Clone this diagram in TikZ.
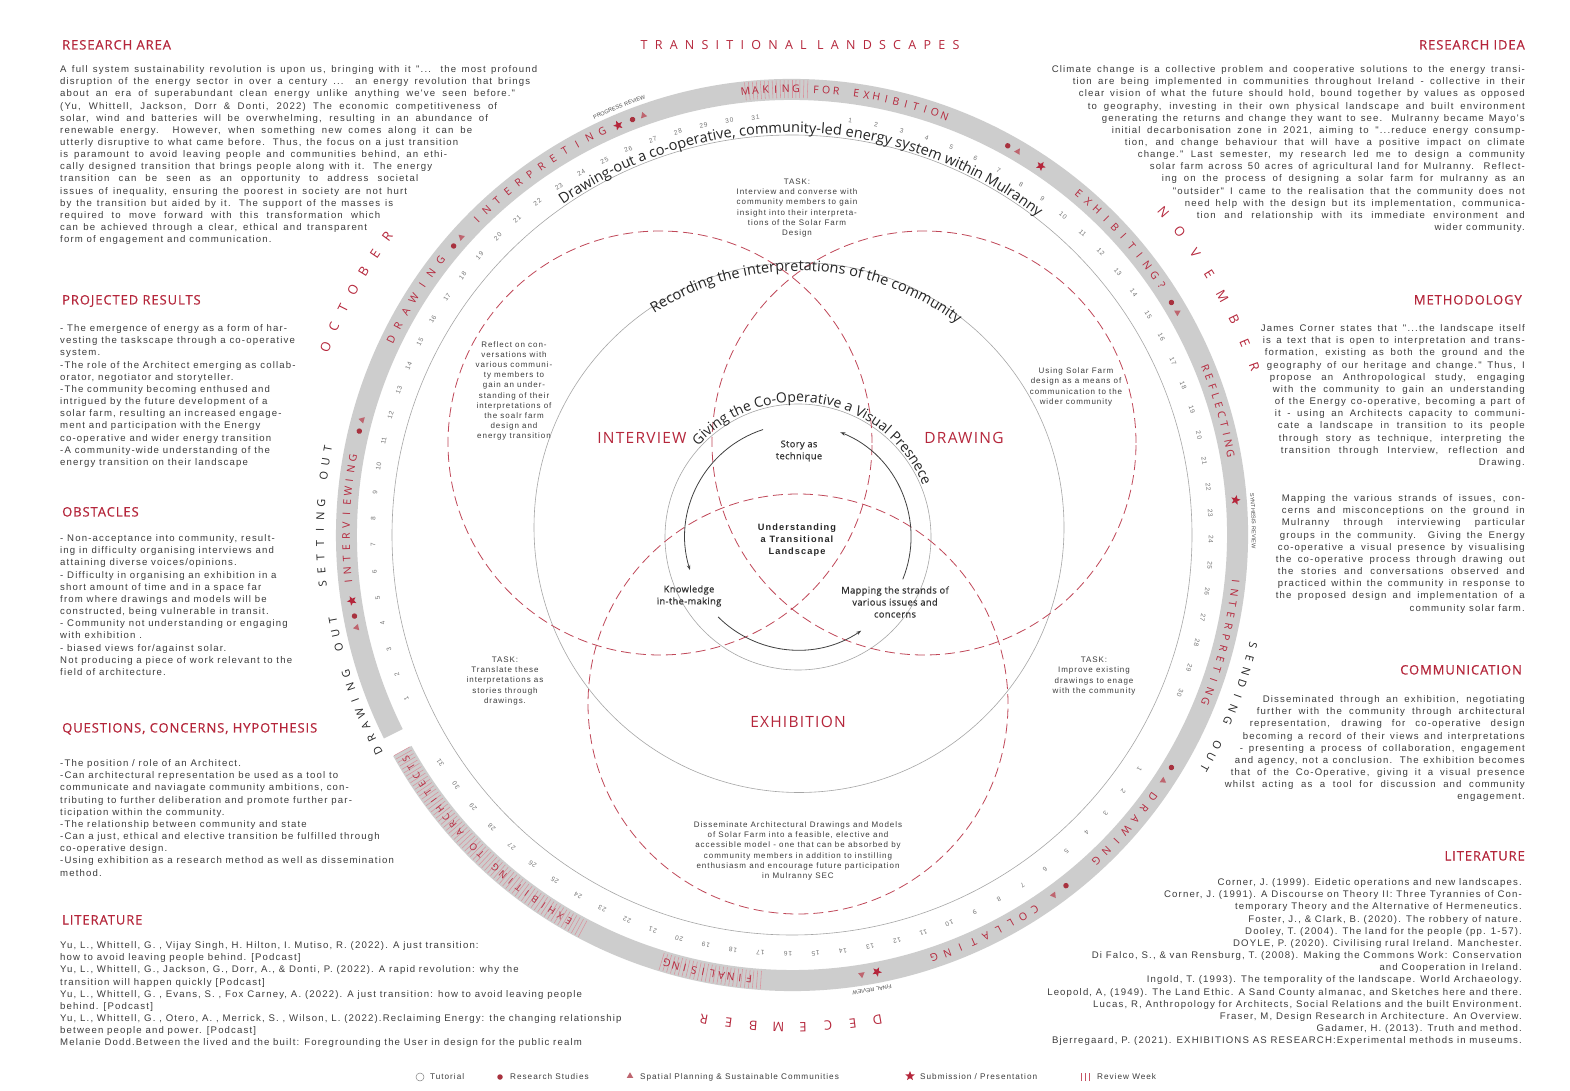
\documentclass[tikz,border=0pt]{standalone}
\usepackage{fontspec}
\setmainfont{Liberation Sans}
\newfontfamily\bodyfont[LetterSpace=12]{Liberation Sans}
\newfontfamily\headfont[LetterSpace=7, FakeBold=0.5]{Open Sans}
\newfontfamily\titlefont[LetterSpace=58]{Open Sans}
\newfontfamily\labelfont[LetterSpace=8]{Open Sans}
\newfontfamily\medfont[LetterSpace=4, FakeBold=0.6]{Open Sans}
\newfontfamily\curvefont{Open Sans}
\usetikzlibrary{arrows.meta,calc,decorations.text,shapes.geometric}

\definecolor{headred}{HTML}{B5263B}
\definecolor{dotred}{HTML}{A8323F}
\definecolor{bandgray}{HTML}{CDCDCD}
\definecolor{textgray}{HTML}{3C3C3C}

% one justified line of a given width
\newcommand{\jl}[2]{\makebox[#1pt][s]{#2}}
% letters set one by one round the ring (inside a scope centred on the ring)
\newcommand{\ringword}[6]{%
  \foreach \ch [count=\k] in {#6}{%
    \pgfmathsetmacro{\ang}{#2-(\k-1)*(#3)}%
    \node[#5, rotate=\ang-90] (#1-\k) at (\ang:#4) {\ch};
  }}

\tikzset{
  txthead/.style={font=\headfont\fontsize{13}{15}\selectfont, text=headred, inner sep=0pt},
  txtbody/.style={font=\bodyfont\fontsize{9.6}{12.15}\selectfont, text=textgray, inner sep=0pt},
  posttitle/.style={font=\titlefont\fontsize{12.5}{14}\selectfont, text=headred, inner sep=0pt},
  txttask/.style={font=\bodyfont\fontsize{8}{10.2}\selectfont, text=textgray, align=center, inner sep=0pt},
  venntitle/.style={font=\labelfont\fontsize{15.5}{17}\selectfont, text=headred, inner sep=0pt},
  cyclelabel/.style={font=\medfont\fontsize{9.3}{12}\selectfont, text=black!80, align=center, inner sep=0pt},
  corelabel/.style={font=\bodyfont\bfseries\fontsize{9.2}{12}\selectfont, text=black!85, align=center, inner sep=0pt},
  phase/.style={font=\curvefont\fontsize{10.5}{11}\selectfont, text=headred, inner sep=0pt},
  phasesmall/.style={font=\curvefont\fontsize{9.5}{10}\selectfont, text=headred, inner sep=0pt},
  month/.style={font=\curvefont\fontsize{13}{14}\selectfont, text=headred, inner sep=0pt},
  outlabel/.style={font=\curvefont\fontsize{11}{12}\selectfont, text=black!85, inner sep=0pt},
  datenum/.style={font=\bodyfont\fontsize{6.5}{7}\selectfont, text=black!55, inner sep=0pt},
  thincircle/.style={draw=black!35, line width=0.6pt},
  venn/.style={draw=headred!85, line width=0.8pt, dash pattern=on 10pt off 5pt},
  cyclearc/.style={draw=black!75, line width=0.8pt, -{Stealth[length=5pt,width=3.5pt]}},
  revhatch/.style={draw=headred!50, line width=0.55pt},
  resdot/.style={circle, fill=dotred, minimum size=5.5pt, inner sep=0pt},
  spdtri/.style={regular polygon, regular polygon sides=3, fill=dotred!75, minimum size=7.5pt, inner sep=0pt},
  substar/.style={star, star points=5, star point ratio=2.3, fill=headred, minimum size=10pt, inner sep=0pt},
  tutring/.style={circle, draw=black!50, line width=0.5pt, minimum size=8pt, inner sep=0pt},
  legtext/.style={font=\bodyfont\fontsize{8.2}{10}\selectfont, text=textgray, inner sep=0pt, anchor=west}
}

\begin{document}
\begin{tikzpicture}[x=1pt, y=1pt]
\useasboundingbox (0,0) rectangle (1570,1090);
\fill[white] (0,0) rectangle (1570,1090);

\coordinate (O) at (792,555);
\coordinate (D) at (798,553);
\coordinate (G1c) at (799,562.5);
\coordinate (Lc) at (660,647);
\coordinate (Rc) at (924,647);
\coordinate (Bc) at (798,386);

% title
\node[posttitle] (title) at (800,1045) {TRANSITIONAL LANDSCAPES};

% left column
\node[txthead, anchor=base west] (h-area) at (62,1040.5) {RESEARCH AREA};
\node[txtbody, anchor=north west, align=left] (p-area) at (60,1024.5) {%
\jl{477}{A full system sustainability revolution is upon us, bringing with it "... the most profound}\\
\jl{470}{disruption of the energy sector in over a century ... an energy revolution that brings}\\
\jl{455}{about an era of superabundant clean energy unlike anything we've seen before."}\\
\jl{437}{(Yu, Whittell, Jackson, Dorr \& Donti, 2022) The economic competitiveness of}\\
\jl{428}{solar, wind and batteries will be overwhelming, resulting in an abundance of}\\
\jl{412}{renewable energy. However, when something new comes along it can be}\\
\jl{398}{utterly disruptive to what came before. Thus, the focus on a just transition}\\
\jl{387}{is paramount to avoid leaving people and communities behind, an ethi-}\\
\jl{372}{cally designed transition that brings people along with it. The energy}\\
\jl{358}{transition can be seen as an opportunity to address societal}\\
\jl{347}{issues of inequality, ensuring the poorest in society are not hurt}\\
\jl{333}{by the transition but aided by it. The support of the masses is}\\
\jl{320}{required to move forward with this transformation which}\\
\jl{307}{can be achieved through a clear, ethical and transparent}\\
form of engagement and communication.};

\node[txthead, anchor=base west] (h-results) at (62,785.5) {PROJECTED RESULTS};
\node[txtbody, anchor=north west, align=left] (p-results) at (60,765.5) {%
- The emergence of energy as a form of har-\\
vesting the taskscape through a co-operative\\
system.\\
-The role of the Architect emerging as collab-\\
orator, negotiator and storyteller.\\
-The community becoming enthused and\\
intrigued by the future development of a\\
solar farm, resulting an increased engage-\\
ment and participation with the Energy\\
co-operative and wider energy transition\\
-A community-wide understanding of the\\
energy transition on their landscape};

\node[txthead, anchor=base west] (h-obst) at (62,573.5) {OBSTACLES};
\node[txtbody, anchor=north west, align=left] (p-obst) at (60,555.5) {%
- Non-acceptance into community, result-\\
ing in difficulty organising interviews and\\
attaining diverse voices/opinions.\\
- Difficulty in organising an exhibition in a\\
short amount of time and in a space far\\
from where drawings and models will be\\
constructed, being vulnerable in transit.\\
- Community not understanding or engaging\\
with exhibition .\\
- biased views for/against solar.\\
Not producing a piece of work relevant to the\\
field of architecture.};

\node[txthead, anchor=base west] (h-quest) at (62,357.5) {QUESTIONS, CONCERNS, HYPOTHESIS};
\node[txtbody, anchor=north west, align=left] (p-quest) at (60,330.5) {%
-The position / role of an Architect.\\
-Can architectural representation be used as a tool to\\
communicate and naviagate community ambitions, con-\\
tributing to further deliberation and promote further par-\\
ticipation within the community.\\
-The relationship between community and state\\
-Can a just, ethical and elective transition be fulfilled through\\
co-operative design.\\
-Using exhibition as a research method as well as dissemination\\
method.};

\node[txthead, anchor=base west] (h-litl) at (62,165.5) {LITERATURE};
\node[txtbody, anchor=north west, align=left] (p-litl) at (60,148.5) {%
Yu, L., Whittell, G. , Vijay Singh, H. Hilton, I. Mutiso, R. (2022). A just transition:\\
how to avoid leaving people behind. [Podcast]\\
Yu, L., Whittell, G., Jackson, G., Dorr, A., \& Donti, P. (2022). A rapid revolution: why the\\
transition will happen quickly [Podcast]\\
Yu, L., Whittell, G. , Evans, S. , Fox Carney, A. (2022). A just transition: how to avoid leaving people\\
behind. [Podcast]\\
Yu, L., Whittell, G. , Otero, A. , Merrick, S. , Wilson, L. (2022).Reclaiming Energy: the changing relationship\\
between people and power. [Podcast]\\
Melanie Dodd.Between the lived and the built: Foregrounding the User in design for the public realm};

% right column
\node[txthead, anchor=base east] (h-idea) at (1525,1040.5) {RESEARCH IDEA};
\node[txtbody, anchor=north east, align=right] (p-idea) at (1525,1024.5) {%
\jl{473}{Climate change is a collective problem and cooperative solutions to the energy transi-}\\
\jl{452}{tion are being implemented in communities throughout Ireland - collective in their}\\
\jl{446}{clear vision of what the future should hold, bound together by values as opposed}\\
\jl{437}{to geography, investing in their own physical landscape and built environment}\\
\jl{423}{generating the returns and change they want to see. Mulranny became Mayo's}\\
\jl{413}{initial decarbonisation zone in 2021, aiming to "...reduce energy consump-}\\
\jl{400}{tion, and change behaviour that will have a positive impact on climate}\\
\jl{387}{change." Last semester, my research led me to design a community}\\
\jl{375}{solar farm across 50 acres of agricultural land for Mulranny. Reflect-}\\
\jl{363}{ing on the process of designing a solar farm for mulranny as an}\\
\jl{352}{"outsider" I came to the realisation that the community does not}\\
\jl{340}{need help with the design but its implementation, communica-}\\
\jl{328}{tion and relationship with its immediate environment and}\\
wider community.};

\node[txthead, anchor=base east] (h-method) at (1522,785.5) {METHODOLOGY};
\node[txtbody, anchor=north east, align=right] (p-method) at (1525,765.5) {%
\jl{264}{James Corner states that "...the landscape itself}\\
\jl{262}{is a text that is open to interpretation and trans-}\\
\jl{260}{formation, existing as both the ground and the}\\
\jl{258}{geography of our heritage and change." Thus, I}\\
\jl{255}{propose an Anthropological study, engaging}\\
\jl{252}{with the community to gain an understanding}\\
\jl{250}{of the Energy co-operative, becoming a part of}\\
\jl{250}{it - using an Architects capacity to communi-}\\
\jl{247}{cate a landscape in transition to its people}\\
\jl{246}{through story as technique, interpreting the}\\
\jl{244}{transition through Interview, reflection and}\\
Drawing.};

\node[txtbody, anchor=north east, align=right] (p-map) at (1525,595.5) {%
\jl{243}{Mapping the various strands of issues, con-}\\
\jl{243}{cerns and misconceptions on the ground in}\\
\jl{243}{Mulranny through interviewing particular}\\
\jl{245}{groups in the community. Giving the Energy}\\
\jl{247}{co-operative a visual presence by visualising}\\
\jl{249}{the co-operative process through drawing out}\\
\jl{247}{the stories and conversations observed and}\\
\jl{247}{practiced within the community in response to}\\
\jl{249}{the proposed design and implementation of a}\\
community solar farm.};

\node[txthead, anchor=base east] (h-comm) at (1522,415.5) {COMMUNICATION};
\node[txtbody, anchor=north east, align=right] (p-comm) at (1525,394.5) {%
\jl{262}{Disseminated through an exhibition, negotiating}\\
\jl{268}{further with the community through architectural}\\
\jl{275}{representation, drawing for co-operative design}\\
\jl{282}{becoming a record of their views and interpretations}\\
\jl{285}{- presenting a process of collaboration, engagement}\\
\jl{290}{and agency, not a conclusion. The exhibition becomes}\\
\jl{294}{that of the Co-Operative, giving it a visual presence}\\
\jl{300}{whilst acting as a tool for discussion and community}\\
engagement.};

\node[txthead, anchor=base east] (h-litr) at (1525,229.5) {LITERATURE};
\node[txtbody, anchor=north east, align=right] (p-litr) at (1522,211.5) {%
Corner, J. (1999).  Eidetic operations and new landscapes.\\
Corner, J. (1991). A Discourse on Theory II: Three Tyrannies of Con-\\
temporary Theory and the Alternative of Hermeneutics.\\
Foster, J., \& Clark, B. (2020). The robbery of nature.\\
Dooley, T. (2004). The land for the people (pp. 1-57).\\
DOYLE, P. (2020). Civilising rural Ireland. Manchester.\\
Di Falco, S., \& van Rensburg, T. (2008). Making the Commons Work: Conservation\\
and Cooperation in Ireland.\\
Ingold, T. (1993). The temporality of the landscape. World Archaeology.\\
Leopold, A, (1949). The Land Ethic. A Sand County almanac, and Sketches here and there.\\
Lucas, R, Anthropology for Architects, Social Relations and the built Environment.\\
Fraser, M, Design Research in Architecture. An Overview.\\
Gadamer, H. (2013). Truth and method.\\
Bjerregaard, P. (2021). EXHIBITIONS AS RESEARCH:Experimental methods in museums.};

% the calendar ring
\begin{scope}[shift={(O)}]
  \fill[bandgray] (-151:456) arc[start angle=-151, end angle=206.5, radius=456]
    -- (206.5:435) arc[start angle=206.5, end angle=-151, radius=435] -- cycle;
  % review weeks
  \foreach \a in {88,88.5,...,96} \draw[revhatch] (\a:437) -- (\a:455);
  \foreach \a in {-107,-106.5,...,-94} \draw[revhatch] (\a:437) -- (\a:455);
  \foreach \a in {-151,-150.5,...,-118} \draw[revhatch] (\a:437) -- (\a:455);
  % phases
  \ringword{ph1}{135}{1.8}{446}{phase}{I,N,T,E,R,P,R,E,T,I,N,G}
  \ringword{ph2}{96}{1.3}{446}{phase}{M,A,K,I,N,G,,F,O,R,,E,X,H,I,B,I,T,I,O,N}
  \ringword{ph3}{50}{1.6}{446}{phase}{E,X,H,I,B,I,T,I,N,G,?}
  \ringword{ph4}{22}{1.28}{446}{phase}{R,E,F,L,E,C,T,I,N,G}
  \ringword{ph5}{-6}{1.45}{446}{phase}{I,N,T,E,R,P,R,E,T,I,N,G}
  \ringword{ph6}{-36}{1.83}{446}{phase}{D,R,A,W,I,N,G}
  \ringword{ph7}{-57}{1.8}{446}{phase}{C,O,L,L,A,T,I,N,G}
  \ringword{ph8}{-95.5}{1.2}{446}{phase}{F,I,N,A,L,I,S,I,N,G}
  \ringword{ph9}{-120}{1.3}{446}{phasesmall}{E,X,H,I,B,I,T,I,N,G,,T,O,,A,R,C,H,I,T,E,C,T,S}
  \ringword{ph10}{154}{2}{446}{phase}{D,R,A,W,I,N,G}
  \ringword{ph11}{186}{1.45}{446}{phase}{I,N,T,E,R,V,I,E,W,I,N,G}
  % months
  \ringword{oct}{158}{2.4}{503}{month}{O,C,T,O,B,E,R}
  \ringword{nov}{41}{3}{492}{month}{N,O,V,E,M,B,E,R}
  \ringword{dec}{-80}{2.9}{492}{month}{D,E,C,E,M,B,E,R}
  % stages
  \ringword{set}{186}{1.65}{472}{outlabel}{S,E,T,T,I,N,G,,O,U,T}
  \ringword{drw}{207.5}{1.7}{467}{outlabel}{D,R,A,W,I,N,G,,O,U,T}
  \ringword{snd}{-13.5}{1.6}{474}{outlabel}{S,E,N,D,I,N,G,,O,U,T}
  % days
  \foreach \d in {1,...,31}{\pgfmathsetmacro{\ang}{203-(\d-1)*3.6}
    \node[datenum, rotate=\ang-90] (oct-d\d) at (\ang:419) {\d};}
  \foreach \d in {1,...,30}{\pgfmathsetmacro{\ang}{82-(\d-1)*3.59}
    \node[datenum, rotate=\ang-90] (nov-d\d) at (\ang:419) {\d};}
  \foreach \d in {1,...,31}{\pgfmathsetmacro{\ang}{-34-(\d-1)*3.77}
    \node[datenum, rotate=\ang-90] (dec-d\d) at (\ang:419) {\d};}
  % tutorials, studies, submissions
  \foreach \a/\s [count=\k] in {113/substar, 111/resdot, 109.5/spdtri, 139.5/resdot, 138/spdtri,
      166.5/resdot, 165/spdtri, 188.5/substar, 190.5/resdot, 192/spdtri, 61/resdot, 59.5/spdtri,
      56/substar, 31.5/resdot, 30/spdtri, 4.5/substar, -31.5/resdot, -33.5/spdtri, -52/resdot,
      -54/spdtri, -79/substar, -81/spdtri}
    \node[\s, rotate=\a-90] (mark-\k) at (\a:445) {};
  % reviews
  \path[decorate, decoration={text along path, text align=center,
    text={|\bodyfont\fontsize{5.5}{6}\selectfont\color{black!70}|PROGRESS REVIEW}}]
    (120:460) arc[start angle=120, end angle=104, radius=460];
  \path[decorate, decoration={text along path, text align=center,
    text={|\bodyfont\fontsize{5.5}{6}\selectfont\color{black!70}|SYNTHESIS REVIEW}}]
    (11:460) arc[start angle=11, end angle=-7.5, radius=460];
  \path[decorate, decoration={text along path, text align=center,
    text={|\bodyfont\fontsize{5.5}{6}\selectfont\color{black!70}|FINAL REVIEW}}]
    (-70:460) arc[start angle=-70, end angle=-90, radius=460];
\end{scope}

% circles
\draw[thincircle] (O) circle[radius=400];
\draw[thincircle] (G1c) circle[radius=265];
\draw[thincircle] (D) circle[radius=133];
\draw[venn] (Lc) circle[radius=212];
\draw[venn] (Rc) circle[radius=212];
\draw[venn] (Bc) circle[radius=210];

\path[decorate, decoration={text along path, text align=center,
  text={|\curvefont\fontsize{14.5}{15}\selectfont\color{black!85}|Drawing-out a co-operative{,} community-led energy system within Mulranny}}]
  ($(O)+(155:402)$) arc[start angle=155, end angle=22, radius=402];
\path[decorate, decoration={text along path, text align=center,
  text={|\curvefont\fontsize{14.5}{15}\selectfont\color{black!85}|Recording the interpretations of the community}}]
  ($(D)+(155:266)$) arc[start angle=155, end angle=21, radius=266];
\path[decorate, decoration={text along path, text align=center,
  text={|\curvefont\fontsize{14}{15}\selectfont\color{black!85}|Giving the Co-Operative a Visual Presnece}}]
  ($(D)+(163:135)$) arc[start angle=163, end angle=-3, radius=135];

% the three practices
\node[venntitle] (v-int) at (642,652) {INTERVIEW};
\node[venntitle] (v-drw) at (964,652) {DRAWING};
\node[venntitle] (v-exh) at (798,368) {EXHIBITION};

\node[txttask] (t-top) at (797,882) {TASK:\\Interview and converse with\\community members to gain\\insight into their interpreta-\\tions of the Solar Farm\\Design};
\node[txttask] (t-left) at (514,699) {Reflect on con-\\versations with\\various communi-\\ty members to\\gain an under-\\standing of their\\interpretations of\\the soalr farm\\design and\\energy transition};
\node[txttask] (t-right) at (1076,703) {Using Solar Farm\\design as a means of\\communication to the\\wider community};
\node[txttask] (t-ll) at (505,409) {TASK:\\Translate these\\interpretations as\\stories through\\drawings.};
\node[txttask] (t-lr) at (1094,414) {TASK:\\Improve existing\\drawings to enage\\with the community};
\node[txttask] (t-bot) at (798,239) {Disseminate Architectural Drawings and Models\\of Solar Farm into a feasible, elective and\\accessible model - one that can be absorbed by\\community members in addition to instilling\\enthusiasm and encourage future participation\\in Mulranny SEC};

% the inner cycle
\node[cyclelabel] (c-story) at (799,639) {Story as\\technique};
\node[cyclelabel] (c-know) at (689,494) {Knowledge\\in-the-making};
\node[cyclelabel] (c-map) at (895,488) {Mapping the strands of\\various issues and\\concerns};
\node[corelabel] (c-core) at (797,550) {Understanding\\a Transitional\\Landscape};
\draw[cyclearc] ($(D)+(108:113)$) arc[start angle=108, end angle=197, radius=113];
\draw[cyclearc] ($(D)+(225:113)$) arc[start angle=225, end angle=304, radius=113];
\draw[cyclearc] ($(D)+(338:113)$) arc[start angle=338, end angle=428, radius=113];

% legend
\node[tutring] (k-tut) at (420,13) {};
\node[legtext] (l-tut) at (430,13) {Tutorial};
\node[resdot] (k-res) at (500,13) {};
\node[legtext] (l-res) at (510,13) {Research Studies};
\node[spdtri] (k-spd) at (630,14) {};
\node[legtext] (l-spd) at (640,13) {Spatial Planning \& Sustainable Communities};
\node[substar] (k-sub) at (910,14) {};
\node[legtext] (l-sub) at (920,13) {Submission / Presentation};
\foreach \x in {1081,1085,1089} \draw[draw=headred!80, line width=1pt] (\x,9) -- (\x,17);
\node[legtext] (l-rev) at (1097,13) {Review Week};
\end{tikzpicture}
\end{document}
